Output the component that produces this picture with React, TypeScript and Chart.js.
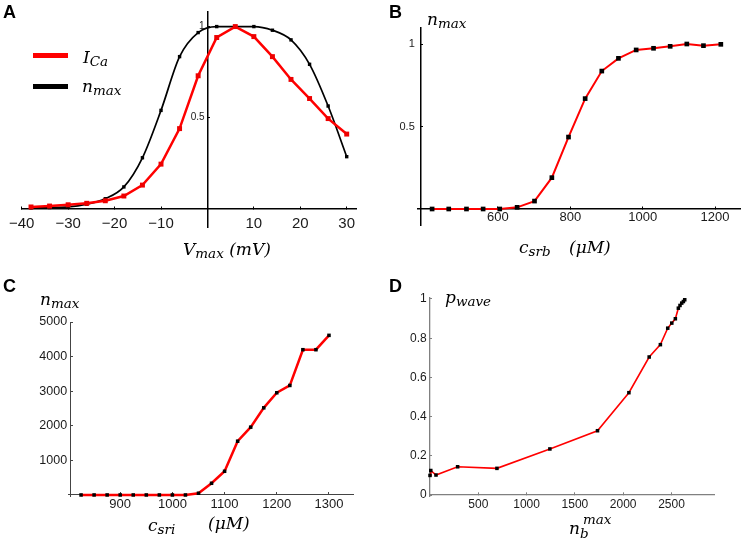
import React, { useEffect, useRef } from "react";
import { Chart, registerables } from "chart.js";
Chart.register(...registerables);

// ---------- Panel A ----------
const vMax = [-38, -34, -30, -26, -22, -18, -14, -10, -6, -2, 2, 6, 10, 14, 18, 22, 26, 30];
const iCa = [0.01, 0.015, 0.022, 0.03, 0.044, 0.07, 0.13, 0.245, 0.44, 0.73, 0.94, 1.0, 0.945, 0.835, 0.71, 0.605, 0.495, 0.41];
const nMaxA = [0.005, 0.007, 0.01, 0.025, 0.055, 0.12, 0.28, 0.54, 0.835, 0.967, 1.0, 1.0, 1.0, 0.98, 0.927, 0.793, 0.564, 0.286];
const xTicksA = [-40, -30, -20, -10, 10, 20, 30];
const yTicksA = [0.5, 1];

// ---------- Panel B ----------
const cSrb = [418, 464, 513, 559, 605, 653, 701, 749, 795, 841, 887, 933, 982, 1030, 1076, 1122, 1168, 1216];
const nMaxB = [0, 0, 0, 0, 0, 0.01, 0.048, 0.19, 0.436, 0.669, 0.836, 0.913, 0.964, 0.974, 0.986, 1.0, 0.99, 0.998];
const xTicksB = [600, 800, 1000, 1200];
const yTicksB = [0.5, 1];

// ---------- Panel C ----------
const cSri = [825, 850, 875, 900, 925, 950, 975, 1000, 1025, 1050, 1075, 1100, 1125, 1150, 1175, 1200, 1225, 1250, 1275, 1300];
const nMaxC = [0, 0, 0, 0, 0, 0, 0, 0, 0, 50, 338, 685, 1554, 1960, 2519, 2954, 3166, 4199, 4199, 4614];
const xTicksC = [900, 1000, 1100, 1200, 1300];
const yTicksC = [1000, 2000, 3000, 4000, 5000];

// ---------- Panel D ----------
const nbMax = [0, 8, 62, 286, 693, 1241, 1734, 2059, 2269, 2385, 2461, 2503, 2540, 2571, 2588, 2606, 2623, 2637];
const pWave = [0.1, 0.125, 0.102, 0.144, 0.136, 0.235, 0.328, 0.522, 0.704, 0.767, 0.851, 0.877, 0.899, 0.953, 0.967, 0.979, 0.987, 0.996];
const xTicksD = [500, 1000, 1500, 2000, 2500];
const yTicksD = [0, 0.2, 0.4, 0.6, 0.8, 1];

const sans = '"Liberation Sans", Arial, Helvetica, sans-serif';
const serif = '"DejaVu Serif", "Liberation Serif", serif';

const pts = (xs: number[], ys: number[]) => xs.map((x, i) => ({ x, y: ys[i] }));
const minus = (v: number) => (v < 0 ? "\u2212" + Math.abs(v) : String(v));

function axis(o: {
  min: number; max: number; at: Record<string, number>; ticks: number[];
  fmt: (v: number) => string; size: number; padding: number; color: string; width: number;
}) {
  return {
    type: "linear",
    min: o.min,
    max: o.max,
    position: o.at,
    grid: {
      display: true,
      drawOnChartArea: false,
      drawTicks: true,
      tickLength: -3,
      tickWidth: 1,
      tickColor: o.color,
      color: o.color,
      lineWidth: 1,
    },
    border: { display: true, color: o.color, width: o.width },
    afterBuildTicks: (s: any) => {
      s.ticks = o.ticks.map((v) => ({ value: v }));
    },
    ticks: {
      autoSkip: false,
      maxRotation: 0,
      minRotation: 0,
      padding: o.padding,
      color: "#1a1a1a",
      font: { family: sans, size: o.size },
      callback: (v: any) => o.fmt(Number(v)),
    },
  };
}

const base = (padding: any) => ({
  responsive: false,
  animation: false as const,
  devicePixelRatio: 1,
  layout: { padding },
  plugins: { legend: { display: false }, tooltip: { enabled: false } },
  events: [] as any[],
});

const configA = () => ({
  type: "line",
  data: {
    datasets: [
      {
        label: "I_Ca", data: pts(vMax, iCa), borderColor: "#ff0000", borderWidth: 2.5,
        pointStyle: "rect", pointRadius: 3.5, pointBorderWidth: 0, pointBackgroundColor: "#ee0000", clip: false,
      },
      {
        label: "n_max", data: pts(vMax, nMaxA), borderColor: "#000000", borderWidth: 1.7,
        cubicInterpolationMode: "monotone",
        pointStyle: "rect", pointRadius: 2.4, pointBorderWidth: 0, pointBackgroundColor: "#000000", clip: false,
      },
    ],
  },
  options: {
    ...base({ left: 14, right: 16, top: 12, bottom: 42 }),
    scales: {
      x: axis({ min: -40, max: 32, at: { y: 0 }, ticks: xTicksA, fmt: minus, size: 15, padding: 9, color: "#000", width: 1.5 }),
      y: axis({ min: -0.1, max: 1.08, at: { x: 0 }, ticks: yTicksA, fmt: (v) => String(v) + " ", size: 10, padding: 0, color: "#000", width: 1.5 }),
    },
  },
});

const configB = () => ({
  type: "line",
  data: {
    datasets: [
      {
        label: "n_max", data: pts(cSrb, nMaxB), borderColor: "#ff0000", borderWidth: 2,
        pointStyle: "rect", pointRadius: 3.3, pointBorderWidth: 0, pointBackgroundColor: "#000000", clip: false,
      },
    ],
  },
  options: {
    ...base({ left: 46, right: 4, top: 28, bottom: 44 }),
    scales: {
      x: axis({ min: 379, max: 1269, at: { y: 0 }, ticks: xTicksB, fmt: (v) => String(v), size: 13, padding: 4, color: "#000", width: 1.5 }),
      y: axis({ min: -0.097, max: 1.097, at: { x: 387 }, ticks: yTicksB, fmt: (v) => String(v) + "  ", size: 11, padding: 0, color: "#000", width: 1.5 }),
    },
  },
});

const configC = () => ({
  type: "line",
  data: {
    datasets: [
      {
        label: "n_max", data: pts(cSri, nMaxC), borderColor: "#ff0000", borderWidth: 2.5,
        pointStyle: "rect", pointRadius: 2.5, pointBorderWidth: 0, pointBackgroundColor: "#000000", clip: false,
      },
    ],
  },
  options: {
    ...base({ left: 68, right: 19, top: 53, bottom: 42 }),
    scales: {
      x: axis({ min: 800, max: 1346, at: { y: 0 }, ticks: xTicksC, fmt: (v) => String(v), size: 13, padding: 5, color: "#444", width: 1 }),
      y: axis({ min: -30, max: 5000, at: { x: 805 }, ticks: yTicksC, fmt: (v) => String(v) + " ", size: 12.5, padding: 0, color: "#444", width: 1 }),
    },
  },
});

const configD = () => ({
  type: "line",
  data: {
    datasets: [
      {
        label: "p_wave", data: pts(nbMax, pWave), borderColor: "#ff0000", borderWidth: 1.6,
        pointStyle: "rect", pointRadius: 2.5, pointBorderWidth: 0, pointBackgroundColor: "#000000", clip: false,
      },
    ],
  },
  options: {
    ...base({ left: 58, right: 30, top: 29, bottom: 42 }),
    scales: {
      x: axis({ min: 0, max: 2940, at: { y: 0 }, ticks: xTicksD, fmt: (v) => String(v), size: 12, padding: 5, color: "#808080", width: 1.3 }),
      y: axis({ min: -0.005, max: 1.005, at: { x: 0 }, ticks: yTicksD, fmt: (v) => String(v) + " ", size: 12, padding: 0, color: "#808080", width: 1.3 }),
    },
  },
});

function ChartPanel({ left, top, config }: { left: number; top: number; config: () => any }) {
  const ref = useRef<HTMLCanvasElement>(null);
  useEffect(() => {
    const chart = new Chart(ref.current as HTMLCanvasElement, config());
    return () => chart.destroy();
  }, []);
  return (
    <canvas
      ref={ref}
      width={372}
      height={269}
      style={{ position: "absolute", left, top, width: 372, height: 269, display: "block" }}
    />
  );
}

const MAIN = 17;
const SUB = 13.5;

function Txt({ x, base, size = MAIN, children }: { x: number; base: number; size?: number; children: any }) {
  return (
    <div
      style={{
        position: "absolute", left: x, top: base - 0.846 * size, fontFamily: serif, fontStyle: "italic",
        fontSize: size, lineHeight: `${size}px`, whiteSpace: "nowrap", color: "#000",
      }}
    >
      {children}
    </div>
  );
}

const Sub = ({ children, dy = 3 }: { children: any; dy?: number }) => (
  <span style={{ fontSize: SUB, position: "relative", top: dy }}>{children}</span>
);

function Letter({ x, y, children }: { x: number; y: number; children: any }) {
  return (
    <div
      style={{
        position: "absolute", left: x, top: y, fontFamily: sans, fontWeight: "bold", fontSize: 18,
        lineHeight: "18px", color: "#000",
      }}
    >
      {children}
    </div>
  );
}

export default function App() {
  return (
    <div
      style={{
        position: "fixed", left: 0, top: 0, width: 744, height: 538, background: "#fff", overflow: "hidden",
      }}
    >
      <ChartPanel left={0} top={0} config={configA} />
      <ChartPanel left={372} top={0} config={configB} />
      <ChartPanel left={0} top={269} config={configC} />
      <ChartPanel left={372} top={269} config={configD} />

      <Letter x={3} y={3}>A</Letter>
      <Letter x={389} y={3}>B</Letter>
      <Letter x={3} y={277}>C</Letter>
      <Letter x={389} y={277}>D</Letter>

      {/* Panel A legend */}
      <div style={{ position: "absolute", left: 33, top: 52.5, width: 35, height: 5, background: "#ff0000" }} />
      <div style={{ position: "absolute", left: 33, top: 84, width: 35, height: 5, background: "#000" }} />
      <Txt x={83} base={63}>I<Sub>Ca</Sub></Txt>
      <Txt x={82} base={92}>n<Sub>max</Sub></Txt>
      <Txt x={183} base={255}>V<Sub>max</Sub> (mV)</Txt>

      {/* Panel B */}
      <Txt x={427} base={25}>n<Sub>max</Sub></Txt>
      <Txt x={519} base={253}>c<Sub>srb</Sub></Txt>
      <Txt x={569} base={253}>(μM)</Txt>

      {/* Panel C */}
      <Txt x={40} base={305}>n<Sub>max</Sub></Txt>
      <Txt x={148} base={531}>c<Sub>sri</Sub></Txt>
      <Txt x={208} base={529}>(μM)</Txt>

      {/* Panel D */}
      <Txt x={445} base={303}>p<Sub dy={3}>wave</Sub></Txt>
      <Txt x={569} base={531}>
        n
        <span style={{ display: "inline-block", position: "relative", width: 30, height: MAIN }}>
          <span style={{ position: "absolute", left: 3, top: -3.4, fontSize: SUB, lineHeight: `${SUB}px` }}>max</span>
          <span style={{ position: "absolute", left: 0, top: 10.6, fontSize: SUB, lineHeight: `${SUB}px` }}>b</span>
        </span>
      </Txt>
    </div>
  );
}
